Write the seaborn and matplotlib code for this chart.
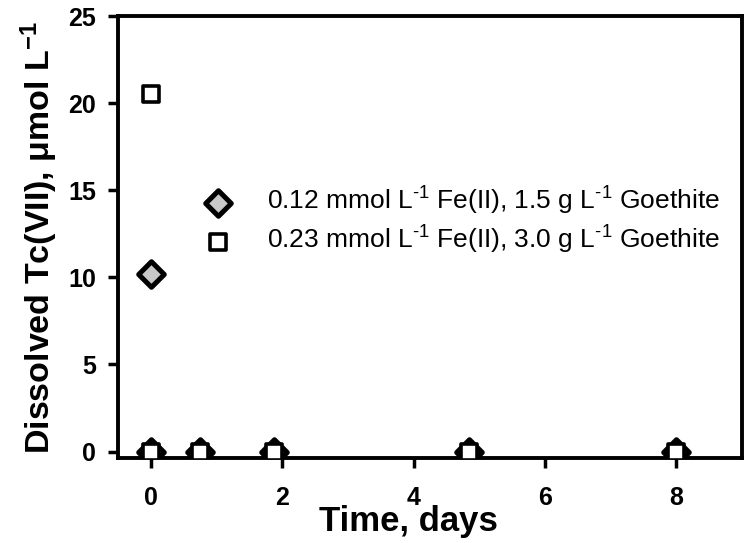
import matplotlib
matplotlib.use("Agg")
import matplotlib.pyplot as plt
import seaborn as sns
import pandas as pd

# Data
time_a = [0, 0, 0.75, 1.88, 4.84, 8.0]
tc_a = [10.2, 0.0, 0.0, 0.0, 0.0, 0.0]
time_b = [0, 0, 0.75, 1.88, 4.84, 8.0]
tc_b = [20.5, 0.0, 0.0, 0.0, 0.0, 0.0]
label_a = r"0.12 mmol L$^{\text{-1}}$ Fe(II), 1.5 g L$^{\text{-1}}$ Goethite"
label_b = r"0.23 mmol L$^{\text{-1}}$ Fe(II), 3.0 g L$^{\text{-1}}$ Goethite"
xticks = [0, 2, 4, 6, 8]
yticks = [0, 5, 10, 15, 20, 25]

sns.set_theme(style="white")
plt.rcParams['font.family'] = ['Liberation Sans', 'DejaVu Sans']
plt.rcParams['mathtext.fontset'] = 'custom'
plt.rcParams['mathtext.rm'] = 'Liberation Sans'
plt.rcParams['mathtext.it'] = 'Liberation Sans:italic'
plt.rcParams['mathtext.bf'] = 'Liberation Sans:bold'
for k in ['text.color', 'axes.labelcolor', 'xtick.color', 'ytick.color', 'axes.edgecolor']:
    plt.rcParams[k] = 'black'

df_a = pd.DataFrame({"t": time_a, "c": tc_a})
df_b = pd.DataFrame({"t": time_b, "c": tc_b})

fig = plt.figure(figsize=(7.45, 5.43), dpi=100)
ax = fig.add_axes([0.1584, 0.1565, 0.8376, 0.814])

sns.scatterplot(data=df_a, x="t", y="c", ax=ax, marker="D", s=170,
                color="#c8c8c8", edgecolor="black", linewidth=3.6, zorder=3,
                label=label_a)
sns.scatterplot(data=df_b, x="t", y="c", ax=ax, marker="s", s=145,
                color="white", edgecolor="black", linewidth=2.6, zorder=4,
                label=label_b)

ax.set_xlim(-0.5, 9.0)
ax.set_ylim(-0.37, 25)
ax.set_xticks(xticks)
ax.set_yticks(yticks)
ax.set_xticklabels([str(v) for v in xticks], fontsize=18, fontweight="bold")
ax.set_yticklabels([str(v) for v in yticks], fontsize=18, fontweight="bold")
ax.tick_params(axis="both", direction="out", length=7, width=2.5, color="black",
               bottom=True, left=True, top=False, right=False)
ax.tick_params(axis="x", pad=13)
ax.tick_params(axis="y", pad=9)

for sp in ax.spines.values():
    sp.set_visible(True)
    sp.set_linewidth(2.8)
    sp.set_color("black")

ax.set_xlabel("Time, days", fontsize=25, fontweight="bold")
ax.xaxis.set_label_coords(0.465, -0.166, transform=ax.transAxes)
ax.xaxis.label.set_verticalalignment("baseline")
ax.set_ylabel(r"Dissolved Tc(VII), $\mathbf{\mu}$mol L$^{\mathbf{-1}}$",
              fontsize=24.5, fontweight="bold", labelpad=6)

leg = ax.legend(loc="upper left", bbox_to_anchor=(0.101, 0.641), frameon=False,
                fontsize=19, handletextpad=0.85, labelspacing=0.25,
                borderaxespad=0)

fig.savefig("out.png", dpi=100)
